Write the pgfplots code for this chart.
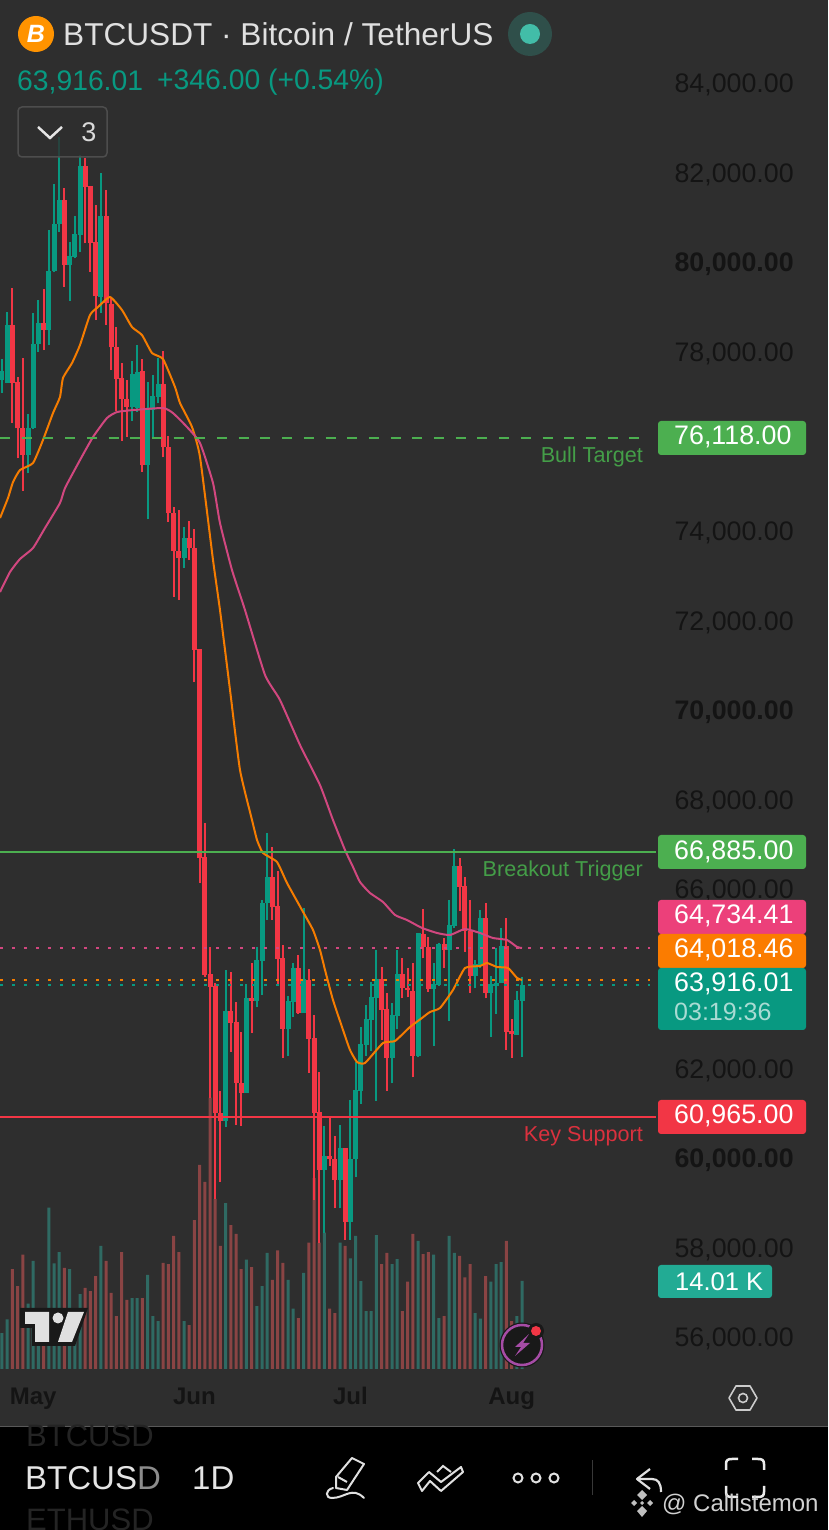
\documentclass[border=0pt]{standalone}
\usepackage{pgfplots}
\usepackage{pgfplotstable}
\usepackage{fontspec}
\setmainfont{Liberation Sans}
\pgfplotsset{compat=1.18}
\definecolor{bgc}{HTML}{2E2E2E}
\definecolor{tv}{HTML}{089981}
\definecolor{rd}{HTML}{F23645}
\definecolor{vt}{HTML}{2F6A63}
\definecolor{vr}{HTML}{8A4444}
\definecolor{oran}{HTML}{F57C00}
\definecolor{pnk}{HTML}{D1477F}
\definecolor{pnktag}{HTML}{EC407A}
\definecolor{orntag}{HTML}{FB7C00}
\definecolor{voltag}{HTML}{22AB94}
\definecolor{dotout}{HTML}{2F4F4A}
\definecolor{dotin}{HTML}{42BDA8}
\definecolor{grn}{HTML}{4CAF50}
\definecolor{tickc}{HTML}{141414}
\newcommand{\fs}[1]{\fontsize{#1}{#1}\selectfont}
% candles: i open high low close
\pgfplotstableread{
i o h l c
0 77365 77827 77082 77573
1 77305 78889 77291 78593
5 75691 76606 75282 76287
6 76287 78854 76265 78168
7 78168 79151 77997 78644
9 78481 80713 78146 79798
10 79790 81740 79770 80847
11 80847 82789 80675 81383
13 79932 80452 79135 80133
14 80120 81025 80081 80624
15 80600 82387 80229 82141
19 79225 81992 78867 81025
25 76769 77796 76456 77492
26 76733 78146 76657 77550
28 75468 77327 74256 76711
29 76696 77477 76064 77008
30 76993 77849 76845 77276
35 73392 74084 73169 73838
43 60833 64196 60699 63288
47 61457 63884 61457 63565
49 63510 64716 63377 64419
50 64404 65759 63638 65698
51 65685 67247 65312 66265
55 62879 63616 62277 63504
56 63489 64346 63154 64234
58 63243 65573 63243 63989
62 59732 60714 58326 60045
65 59509 60737 58877 60217
67 58578 61295 58170 59970
68 59970 62149 59569 61518
69 61502 62917 61205 62544
70 62530 63415 62277 63096
71 63080 63935 62395 63587
72 63571 64643 61279 63989
75 62232 63453 61667 63192
76 63170 64643 62873 64107
80 62277 65030 62248 65015
83 63772 64346 62500 63884
84 63861 64806 63839 64776
86 64643 65759 63065 65201
87 65178 66890 65127 66517
91 64062 64419 63788 64330
92 64308 65535 64234 65350
94 63690 64062 62707 63884
95 63839 64681 63214 63913
96 63899 65127 63899 64732
99 62745 63734 62745 63527
100 63510 64047 62261 63871
}\upT
\pgfplotstableread{
i o h l c
2 78593 79412 76412 77305
3 77314 77425 75617 76287
4 76287 77849 74894 75691
8 78644 79396 78035 78481
12 81383 81644 79447 79932
16 82141 82313 80416 81680
17 81695 81700 79782 80416
18 80452 81271 78704 79240
20 81025 81606 78593 79077
21 79060 79225 77588 78095
22 78095 78541 76680 77394
23 77400 77738 76010 76934
24 76934 77365 76099 76769
27 77566 77834 75318 75468
31 77276 78012 75640 75863
32 75863 76115 74202 74396
33 74396 74530 72522 73548
34 73548 74463 72455 73392
36 73838 74218 73347 73615
37 73615 74039 70624 71339
38 71361 71361 66138 66696
39 66718 67477 64040 64085
40 64107 64710 61339 63817
41 63839 63906 59085 61004
42 61000 61502 59471 60826
44 63288 64158 62373 63020
45 63035 63489 60737 61681
46 61681 62819 60714 61457
48 63565 64346 62797 63505
52 66265 66935 65312 65596
53 65625 66406 63861 64448
54 64457 64754 62239 62879
57 64234 64531 63214 63230
59 63973 64218 61904 62663
60 62671 63192 59063 61011
61 61020 61920 58103 59732
63 60045 60908 59821 59970
64 59970 60491 58877 59509
66 60217 60217 58170 58578
73 63989 64256 62634 63303
74 63318 63690 61502 62232
77 64107 64457 63565 63788
78 63788 64234 63587 63757
79 63727 64359 61801 62277
81 65000 65551 64457 64703
82 64703 64939 63712 63772
85 64776 64904 64234 64643
88 66517 66689 65520 66055
89 66070 66265 64605 65073
90 65073 65759 63690 64062
93 65350 65685 63565 63690
97 64732 65350 62411 62819
98 62835 63096 62239 62761
}\dnT
\pgfplotstableread{
x y
-0.38 74285
1.15 74731
2.12 75088
3.46 75356
5.96 75512
7.88 76026
9.81 76628
11.15 76986
11.73 77410
13.46 77744
15.0 78146
16.92 78816
18.46 78994
20.77 79218
23.08 78927
25.0 78548
26.92 78369
28.85 77968
30.96 77834
33.27 77209
34.23 76852
36.54 76316
38.08 75646
40.58 73347
41.92 72231
43.85 70446
45.77 68660
48.08 67544
49.04 67098
50.19 66808
52.88 66607
54.81 66138
57.69 65535
59.81 65089
61.15 64643
62.12 64196
63.65 63527
65.58 62857
66.92 62411
68.27 62143
69.81 62120
73.27 62567
75.58 62611
78.46 62924
80.77 63125
82.31 63259
84.23 63348
86.73 63750
89.04 64241
91.92 64285
93.27 64352
95.19 64263
97.31 64241
99.04 64018
100 63973
}\orT
\pgfplotstableread{
x y
-0.38 72633
1.54 73080
3.46 73370
5.96 73615
8.27 74062
11.15 74620
12.12 74954
15.0 75579
17.5 76093
20.19 76517
22.12 76651
25.19 76695
30.96 76740
32.88 76628
35.58 76316
38.08 75959
40.58 75066
41.92 74173
44.23 73124
46.73 72231
50.58 70781
53.46 70223
57.31 69218
61.15 68325
63.65 67544
65.96 66875
67.5 66495
68.85 66160
70.77 65915
73.27 65714
75.58 65424
77.88 65312
80.77 65134
83.65 65022
86.15 64977
89.04 65111
91.92 65022
94.42 64910
97.12 64866
99.04 64710
100 64687
}\piT
\begin{document}
\begin{tikzpicture}[x=1pt,y=1pt]
\useasboundingbox (0,0) rectangle (828,1530);
\fill[bgc] (0,0) rectangle (828,1530);
% volume axis
\begin{axis}[at={(0pt,104pt)},anchor=south west,scale only axis,width=656pt,height=1426pt,
  xmin=-0.3846,xmax=125.77,ymin=-9.08,ymax=217.99,
  axis line style={draw=none},tick style={draw=none},xtick=\empty,ytick=\empty,clip=true,
  ybar,bar width=3pt,bar shift=0pt]
\addplot[fill=vt,draw=none] coordinates {(0,5.7)(1,7.9)(5,10.4)(6,17.2)(7,6.2)(9,25.7)(10,16.8)(11,18.6)(13,15.9)(14,7.3)(15,11.9)(19,19.6)(25,11.3)(26,11.3)(28,15)(29,8.4)(30,7.6)(35,7.6)(43,26.4)(47,17.4)(49,10)(50,13.2)(51,18.5)(55,14.2)(56,9.6)(58,15.3)(62,21.7)(65,20.1)(67,17.6)(68,21.2)(69,14)(70,9.2)(71,9.2)(72,21.3)(75,16.7)(76,17.5)(80,20.4)(83,18.2)(84,8.1)(86,21.2)(87,18.5)(91,8.9)(92,8)(94,13.9)(95,16.7)(96,17)(99,8.4)(100,14.01)};
\addplot[fill=vr,draw=none] coordinates {(2,15.9)(3,13.2)(4,18.2)(8,6)(12,16.1)(16,12.9)(17,12.4)(18,14.8)(20,17.2)(21,12.1)(22,8.4)(23,18.6)(24,11)(27,11.3)(31,16.9)(32,16.7)(33,21.2)(34,18.6)(36,7)(37,23.7)(38,32.5)(39,29.8)(40,43.2)(41,27.1)(42,19.6)(44,22.9)(45,21.5)(46,15.9)(48,16.2)(52,14.2)(53,18.9)(54,16.9)(57,8.1)(59,20.1)(60,30.4)(61,20.1)(63,9.6)(64,8.9)(66,19.6)(73,16.7)(74,18.5)(77,9.2)(78,13.9)(79,21.5)(81,18.3)(82,18.6)(85,8.4)(88,18)(89,14.6)(90,16.7)(93,14.8)(97,20.4)(98,7.6)};
\end{axis}
% price axis
\begin{axis}[at={(0pt,104pt)},anchor=south west,scale only axis,width=656pt,height=1426pt,
  xmin=-0.3846,xmax=125.77,ymin=54062,ymax=85893,
  axis line style={draw=none},tick style={draw=none},major tick length=0pt,clip=true,scaled y ticks=false,
  xtick={6,37,67,98},xticklabels={May,Jun,Jul,Aug},
  xticklabel style={font=\fs{24}\bfseries,text=tickc,anchor=center,text height=17pt,text depth=5pt,yshift=27pt},
  ytick={56000,58000,60000,62000,64000,66000,68000,70000,72000,74000,76000,78000,80000,82000,84000},
  yticklabels={{56,000.00},{58,000.00},{\textbf{60,000.00}},{62,000.00},{64,000.00},{66,000.00},{68,000.00},{\textbf{70,000.00}},{72,000.00},{74,000.00},{76,000.00},{78,000.00},{\textbf{80,000.00}},{82,000.00},{84,000.00}},
  yticklabel pos=right,
  yticklabel style={font=\fs{26.8},text=tickc,anchor=west,xshift=15pt,yshift=0pt}]
% wicks
\addplot[draw=none,mark=none,forget plot,error bars/.cd,y dir=plus,y explicit,error mark=none,
  error bar style={draw=tv,line width=2pt}]
  table[x=i,y expr=\thisrow{l}+45,y error plus expr=\thisrow{h}-\thisrow{l}]{\upT};
\addplot[draw=none,mark=none,forget plot,error bars/.cd,y dir=plus,y explicit,error mark=none,
  error bar style={draw=rd,line width=2pt}]
  table[x=i,y expr=\thisrow{l}+45,y error plus expr=\thisrow{h}-\thisrow{l}]{\dnT};
% bodies
\addplot[draw=none,mark=none,forget plot,error bars/.cd,y dir=plus,y explicit,error mark=none,
  error bar style={draw=tv,line width=5pt}]
  table[x=i,y expr=\thisrow{o}+45,y error plus expr=\thisrow{c}-\thisrow{o}]{\upT};
\addplot[draw=none,mark=none,forget plot,error bars/.cd,y dir=plus,y explicit,error mark=none,
  error bar style={draw=rd,line width=5pt}]
  table[x=i,y expr=\thisrow{c}+45,y error plus expr=\thisrow{o}-\thisrow{c}]{\dnT};
% moving averages
\addplot[oran,line width=2pt,smooth,tension=0.3,mark=none] table[x=x,y expr=\thisrow{y}+45]{\orT};
\addplot[pnk,line width=2pt,smooth,tension=0.3,mark=none] table[x=x,y expr=\thisrow{y}+45]{\piT};
% price lines
\addplot[grn,line width=2pt,dash pattern=on 10pt off 11.7pt,mark=none] coordinates {(-0.38,76118)(124.6,76118)};
\addplot[grn,line width=2pt,mark=none] coordinates {(-0.38,66885)(125.7,66885)};
\addplot[rd,line width=2pt,mark=none] coordinates {(-0.38,60965)(125.7,60965)};
\addplot[pnk,line width=2pt,dash pattern=on 2.5pt off 9.5pt,mark=none] coordinates {(-0.38,64734.41)(124.6,64734.41)};
\addplot[oran,line width=2pt,dash pattern=on 2.5pt off 9.5pt,mark=none] coordinates {(-0.38,64018.46)(124.6,64018.46)};
\addplot[tv,line width=2pt,dash pattern=on 2.5pt off 9.5pt,mark=none] coordinates {(-0.38,63916.01)(124.6,63916.01)};
\end{axis}
% overlays in image pixels (y downwards)
\begin{scope}[shift={(0,1530)},x=1pt,y=-1pt]
% bottom strip
\fill[black] (0,1427) rectangle (828,1530);
\draw[color=white!35!black,line width=1pt] (0,1426.5) -- (828,1426.5);
% header
\fill[orange!85!yellow] (36,34) circle (18);
\node[text=white,font=\fs{25}\bfseries\itshape] at (36,34) {B};
\node[anchor=west,text=white!88!black,font=\fs{31.6},inner sep=0] at (63,34) {BTCUSDT · Bitcoin / TetherUS};
\fill[dotout] (530,34) circle (22);
\fill[dotin] (530,34) circle (10);
\node[anchor=west,text=tv,font=\fs{28.3},inner sep=0] at (17,82) {63,916.01};
\node[anchor=west,text=tv,font=\fs{28.3},inner sep=0] at (157,82) {+346.00 (+0.54\%)};
% dropdown
\fill[bgc,opacity=0.8,rounded corners=4pt] (18,107) rectangle (107,157);
\draw[color=white!15!bgc,line width=1.5pt,rounded corners=4pt] (18,107) rectangle (107,157);
\draw[white!90!black,line width=2.5pt] (38,127) -- (50,138) -- (62,127);
\node[text=white!85!black,font=\fs{27}] at (89,132) {3};
% labels on lines
\node[anchor=east,text=grn!90!black,font=\fs{21.6},inner sep=0] at (643,457) {Bull Target};
\node[anchor=east,text=grn!90!black,font=\fs{21.6},inner sep=0] at (643,871) {Breakout Trigger};
\node[anchor=east,text=rd!90!black,font=\fs{21.6},inner sep=0] at (643,1136) {Key Support};
% tags
\fill[grn,rounded corners=3pt] (658,421) rectangle (806,455);
\node[text=white,font=\fs{26.8},anchor=west,inner sep=0] at (674,437) {76,118.00};
\fill[grn,rounded corners=3pt] (658,835) rectangle (806,869);
\node[text=white,font=\fs{26.8},anchor=west,inner sep=0] at (674,852) {66,885.00};
\fill[pnktag,rounded corners=3pt] (658,900) rectangle (806,934);
\node[text=white,font=\fs{26.8},anchor=west,inner sep=0] at (674,916) {64,734.41};
\fill[orntag,rounded corners=3pt] (658,934) rectangle (806,968);
\node[text=white,font=\fs{26.8},anchor=west,inner sep=0] at (674,950) {64,018.46};
\fill[tv,rounded corners=3pt] (658,968) rectangle (806,1030);
\node[text=white,font=\fs{26.8},anchor=west,inner sep=0] at (674,984) {63,916.01};
\node[text=white!65!tv,font=\fs{25},anchor=west,inner sep=0] at (674,1012) {03:19:36};
\fill[rd,rounded corners=3pt] (658,1100) rectangle (806,1134);
\node[text=white,font=\fs{26.8},anchor=west,inner sep=0] at (674,1116) {60,965.00};
\fill[voltag,rounded corners=3pt] (658,1265) rectangle (772,1298);
\node[text=white,font=\fs{25.5},anchor=west,inner sep=0] at (675,1282) {14.01 K};
% TradingView logo
\fill[black!90!white] (20,1308) -- (88,1308) -- (75,1346) -- (32,1346) -- (32,1328) -- (20,1328) -- cycle;
\fill[white!88!black] (25,1312) -- (49,1312) -- (49,1342) -- (35,1342) -- (35,1324) -- (25,1324) -- cycle;
\fill[white!88!black] (58,1318) circle (5.5);
\fill[white!88!black] (68,1312) -- (84,1312) -- (72,1342) -- (58,1342) -- cycle;
% flash icon
\fill[black!90!white] (522,1345) circle (22.5);
\draw[color=violet!70!white,line width=2.5pt] (522,1345) circle (20);
\fill[color=violet!70!white] (529,1334) -- (515,1347) -- (521,1347) -- (515,1356) -- (530,1343) -- (523,1343) -- cycle;
\fill[black!90!white] (536,1331) circle (8);
\fill[rd] (536,1331) circle (5);
% settings hexagon
\draw[white!80!black,line width=1.6pt,line join=round] (729,1398) -- (736,1386) -- (750,1386) -- (757,1398) -- (750,1410) -- (736,1410) -- cycle;
\draw[white!80!black,line width=1.6pt] (743,1398) circle (4.5);
% bottom strip contents
\node[anchor=west,text=white!14!black,font=\fs{31},inner sep=0] at (26,1436) {BTCUSD};
\node[anchor=west,text=white!14!black,font=\fs{31},inner sep=0] at (26,1520) {ETHUSD};
\node[anchor=west,text=white!90!black,font=\fs{33},inner sep=0] at (25,1478) {BTCUS\textcolor{white!55!black}{D}};
\node[anchor=west,text=white!90!black,font=\fs{33},inner sep=0] at (192,1478) {1D};
% pencil
\draw[white!88!black,line width=2pt,line join=round] (352,1458) -- (364,1464) -- (347,1490) -- (336,1488) -- (336,1477) -- cycle;
\draw[white!88!black,line width=2pt] (338,1477) -- (347,1482);
\draw[white!88!black,line width=2pt,line cap=round] (364,1498) .. controls (352,1486) and (345,1498) .. (332,1498) .. controls (325,1498) and (325,1490) .. (333,1488);
% double chevron
\draw[white!88!black,line width=2pt,line join=round] (418,1483) -- (429,1472) -- (441,1482) -- (461,1467) -- (463,1472) -- (441,1491) -- (430,1481) -- (422,1491) -- cycle;
\draw[white!88!black,line width=2pt] (437,1472) -- (443,1466) -- (451,1472);
% dots
\draw[white!88!black,line width=2pt] (518,1478) circle (4.5);
\draw[white!88!black,line width=2pt] (536,1478) circle (4.5);
\draw[white!88!black,line width=2pt] (554,1478) circle (4.5);
\draw[white!22!black,line width=1pt] (592,1460) -- (592,1495);
% undo
\draw[white!88!black,line width=2.2pt,line join=round] (650,1469) -- (637,1479) -- (650,1489);
\draw[white!88!black,line width=2.2pt] (637,1479) -- (652,1479) .. controls (658,1479) and (661,1483) .. (661,1492);
% fullscreen corners
\draw[white!92!black,line width=2.5pt] (726,1470) -- (726,1464) .. controls (726,1460) and (728,1459) .. (732,1459) -- (738,1459);
\draw[white!92!black,line width=2.5pt] (752,1459) -- (758,1459) .. controls (762,1459) and (764,1460) .. (764,1464) -- (764,1470);
\draw[white!92!black,line width=2.5pt] (726,1486) -- (726,1492) .. controls (726,1496) and (728,1497) .. (732,1497) -- (738,1497);
\draw[white!92!black,line width=2.5pt] (752,1497) -- (758,1497) .. controls (762,1497) and (764,1496) .. (764,1492) -- (764,1486);
% watermark
\fill[white!75!black] (642,1490) -- (647,1495) -- (642,1500) -- (637,1495) -- cycle;
\fill[white!75!black] (642,1506) -- (647,1511) -- (642,1517) -- (637,1511) -- cycle;
\fill[white!75!black] (631,1503) -- (634,1500) -- (637,1503) -- (634,1506) -- cycle;
\fill[white!75!black] (647,1503) -- (650,1500) -- (653,1503) -- (650,1506) -- cycle;
\fill[white!75!black] (642,1501) -- (644,1503) -- (642,1505) -- (640,1503) -- cycle;
\node[anchor=west,text=white!82!black,font=\fs{24},inner sep=0] at (662,1504) {@ Callistemon};
\end{scope}
\end{tikzpicture}
\end{document}
